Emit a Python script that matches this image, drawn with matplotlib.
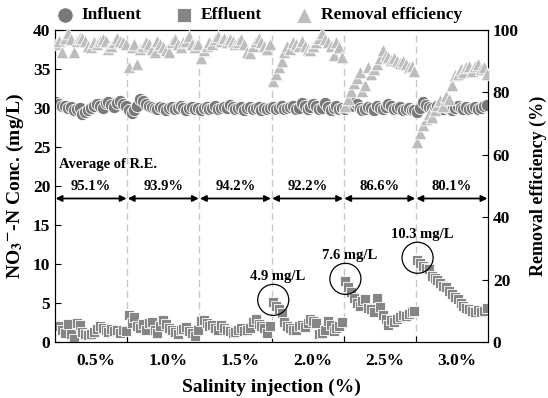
import matplotlib.pyplot as plt

plt.rcParams["font.family"] = "Liberation Serif"
plt.rcParams["font.weight"] = "bold"
plt.rcParams["mathtext.fontset"] = "stix"

# salinity phases, 25 samples each
phases = ["0.5%", "1.0%", "1.5%", "2.0%", "2.5%", "3.0%"]
n_per_phase = 25
avg_re = ["95.1%", "93.9%", "94.2%", "92.2%", "86.6%", "80.1%"]

influent = [
    30.8, 30.5, 30.3, 30.2, 30.0, 30.1, 29.8, 29.9, 30.0, 29.2, 29.5, 29.8, 30.0,
    30.3, 30.5, 30.2, 30.0, 30.6, 30.8, 30.4, 30.1, 30.6, 30.9, 30.5, 30.2,
    29.8, 29.4, 29.7, 30.3, 31.2, 30.9, 30.5, 30.3, 30.1, 30.0, 29.9, 30.1, 30.0,
    29.8, 30.0, 30.1, 29.9, 30.0, 30.2, 30.0, 29.8, 30.0, 30.1, 29.9, 30.0,
    29.8, 30.0, 30.1, 29.9, 30.0, 30.2, 29.9, 30.0, 30.1, 30.0, 30.4, 30.1, 29.9,
    30.0, 30.1, 29.8, 30.0, 30.1, 29.9, 30.0, 30.1, 29.8, 30.0, 29.9, 30.0,
    30.1, 29.9, 30.0, 30.2, 29.9, 30.0, 30.1, 30.3, 29.9, 30.0, 30.6, 30.2, 29.9,
    30.1, 30.5, 30.2, 29.9, 30.0, 30.6, 30.1, 29.8, 30.0, 30.2, 29.9, 30.0,
    29.9, 30.1, 30.3, 30.8, 30.5, 30.0, 29.7, 29.9, 30.1, 30.0, 29.8, 30.2, 30.0,
    29.9, 30.1, 30.5, 30.2, 29.9, 30.0, 30.1, 29.8, 29.9, 30.0, 29.8, 29.7,
    29.5, 30.0, 30.8, 30.4, 30.1, 30.0, 29.9, 30.2, 30.0, 29.9, 30.1, 30.0, 29.8,
    30.0, 30.2, 30.0, 29.9, 30.1, 29.9, 30.0, 30.1, 29.9, 30.0, 30.2, 30.4,
]

effluent = [
    2.2, 2.0, 1.5, 1.2, 2.3, 1.0, 0.4, 2.5, 2.2, 1.3, 1.0, 0.9, 1.0,
    1.3, 1.7, 2.0, 1.8, 1.5, 1.3, 1.7, 1.4, 1.6, 1.2, 1.5, 1.4,
    3.4, 2.5, 3.2, 2.0, 1.8, 2.3, 1.5, 2.5, 2.6, 1.5, 1.2, 2.0, 2.8,
    2.3, 1.8, 1.6, 1.3, 1.0, 1.5, 1.7, 1.9, 1.4, 1.2, 0.8, 1.5,
    2.7, 2.8, 2.4, 2.0, 2.2, 1.8, 1.6, 2.2, 1.8, 1.5, 1.4, 1.2, 1.3,
    1.6, 1.8, 1.4, 1.5, 1.8, 2.6, 2.9, 2.3, 2.0, 1.8, 1.2, 2.0,
    5.1, 4.6, 4.2, 3.7, 2.6, 2.1, 1.8, 1.5, 1.6, 2.0, 2.2, 1.9, 2.5,
    3.0, 2.7, 2.4, 1.0, 1.2, 1.5, 2.7, 2.2, 1.4, 1.8, 2.0, 2.6,
    7.8, 7.1, 6.4, 5.6, 5.0, 4.6, 5.2, 5.5, 4.4, 4.2, 3.8, 5.6, 4.5,
    3.5, 3.0, 2.2, 2.8, 2.6, 3.0, 3.2, 3.4, 3.3, 3.6, 3.8, 4.0,
    10.5, 10.1, 9.8, 9.5, 9.3, 8.5, 8.2, 8.0, 7.6, 7.2, 7.0, 6.6, 6.2,
    5.8, 5.5, 5.0, 4.6, 4.3, 4.2, 4.0, 3.9, 4.1, 3.8, 4.0, 4.3,
]

removal = [
    95.5, 96.5, 93.0, 97.5, 99.0, 97.0, 93.0, 96.5, 97.5, 97.5, 96.5, 95.0, 94.5,
    96.0, 95.5, 96.5, 97.0, 96.5, 94.0, 95.0, 96.0, 97.5, 96.5, 96.0, 95.5,
    88.0, 94.5, 95.5, 89.0, 94.0, 95.0, 96.0, 95.5, 94.0, 93.0, 96.5, 95.5, 94.5,
    93.5, 93.0, 96.0, 97.0, 95.5, 94.5, 96.0, 96.5, 98.0, 95.5, 94.5, 95.5,
    91.0, 93.5, 95.0, 96.0, 95.5, 97.0, 98.0, 96.5, 97.5, 96.0, 97.0, 96.5, 95.5,
    96.0, 97.0, 95.5, 93.0, 92.5, 95.0, 96.5, 97.5, 96.0, 95.0, 94.0, 95.5,
    83.5, 86.0, 88.0, 90.0, 93.0, 95.0, 94.0, 96.0, 95.5, 95.0, 96.5, 95.0, 94.0,
    93.5, 95.0, 96.0, 97.5, 99.0, 97.0, 96.0, 95.0, 92.0, 96.0, 94.5, 91.5,
    75.5, 78.0, 80.5, 83.0, 84.5, 86.5, 80.5, 82.5, 88.0, 86.0, 87.5, 89.0, 91.0,
    93.5, 92.0, 91.5, 90.5, 91.0, 90.0, 89.5, 90.0, 89.0, 88.0, 88.5, 87.0,
    64.0, 67.0, 69.5, 71.5, 73.0, 72.0, 74.5, 76.0, 77.5, 75.5, 79.0, 78.0, 82.5,
    85.5, 86.0, 87.5, 86.5, 88.0, 88.5, 87.0, 88.5, 89.0, 87.5, 88.0, 86.0,
]

# peaks marked with a circle at the start of 2.0 %, 2.5 % and 3.0 %
peak_labels = ["4.9 mg/L", "7.6 mg/L", "10.3 mg/L"]

n_total = n_per_phase * len(phases)
x = [i + 0.5 for i in range(n_total)]
bounds = [n_per_phase * k for k in range(1, len(phases))]
centers = [n_per_phase * (k + 0.5) for k in range(len(phases))]

fig = plt.figure(figsize=(5.48, 3.98), dpi=100)
ax = fig.add_axes([0.1004, 0.1407, 0.7901, 0.7839])
ax2 = ax.twinx()

for b in bounds:
    ax.axvline(b, color="#c8c8c8", ls=(0, (5, 3)), lw=1.0, zorder=0)

h1 = ax.scatter(x, influent, marker="o", s=78, c="#787878", edgecolors="white",
                linewidths=0.6, zorder=3, label="Influent")
h2 = ax.scatter(x, effluent, marker="s", s=62, c="#858585", edgecolors="white",
                linewidths=0.6, zorder=3, label="Effluent")
h3 = ax2.scatter(x, removal, marker="^", s=82, c="#bdbdbd", edgecolors="white",
                 linewidths=0.6, zorder=3, label="Removal efficiency")

ax.set_xlim(0, n_total)
ax.set_ylim(0, 40)
ax2.set_ylim(0, 100)
ax.set_yticks(range(0, 41, 5))
ax2.set_yticks(range(0, 101, 20))

ax.set_xticks(bounds)
ax.set_xticklabels([])
ax.set_xticks([c + 1.7 for c in centers], minor=True)
ax.set_xticklabels(phases, minor=True)
ax.tick_params(axis="x", which="major", direction="in", length=4)
ax.tick_params(axis="x", which="minor", length=0, pad=8, labelsize=12.5)
ax.tick_params(axis="y", direction="in", length=4, labelsize=12.5)
ax2.tick_params(axis="y", direction="in", length=4, labelsize=12.5)

ax.set_xlabel("Salinity injection (%)", fontsize=14, fontweight="bold", labelpad=7)
ax.set_ylabel(r"NO$_\mathbf{3}$$^\mathbf{-}$-N Conc. (mg/L)", fontsize=14,
              fontweight="bold", labelpad=5)
ax2.set_ylabel("Removal efficiency (%)", fontsize=13, fontweight="bold", labelpad=8)

# average removal efficiency per phase
ax.text(1.5, 22.8, "Average of R.E.", fontsize=10.5, fontweight="bold", va="center")
edges = [0] + bounds + [n_total]
for k, lab in enumerate(avg_re):
    ax.annotate("", xy=(edges[k] + 0.2, 18.4), xytext=(edges[k + 1] - 0.2, 18.4),
                arrowprops=dict(arrowstyle="<|-|>", color="black", lw=1.3,
                                mutation_scale=9, shrinkA=0, shrinkB=0))
    ax.text(centers[k], 19.9, lab, fontsize=10.5, fontweight="bold",
            ha="center", va="center")

# circled peaks
for j, lab in enumerate(peak_labels):
    i0 = bounds[j + 2]
    cx = x[i0] + 0.1
    cy = effluent[i0] + 0.3
    ax.scatter([cx], [cy], marker="o", s=500, facecolors="none",
               edgecolors="black", linewidths=0.9, zorder=4)
    ax.text(cx + 1.5, cy + 3.0, lab, fontsize=10.5, fontweight="bold",
            ha="center", va="center")

fig.legend(handles=[h1, h2, h3], loc="center", bbox_to_anchor=(0.473, 0.962),
           ncol=3, frameon=False, prop={"weight": "bold", "size": 12.5},
           handletextpad=0.5, columnspacing=1.9, handlelength=1.0, markerscale=1.25)

fig.savefig("out.png", dpi=100)
